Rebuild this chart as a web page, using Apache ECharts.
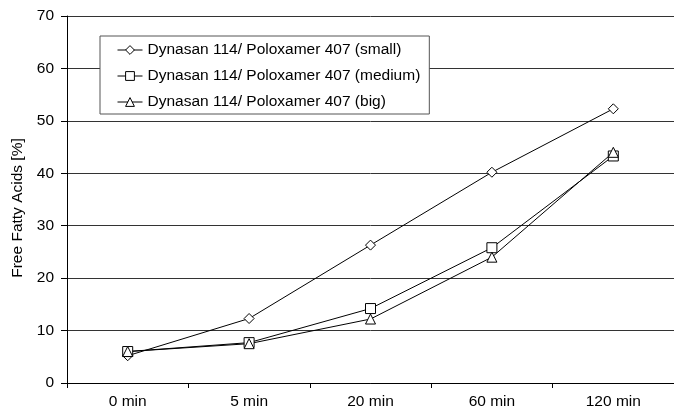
<!DOCTYPE html>
<html><head><meta charset="utf-8">
<script src="https://cdn.jsdelivr.net/npm/echarts@6/dist/echarts.min.js"></script>
<style>html,body{margin:0;padding:0;background:#fff}#c{width:674px;height:413px}</style>
</head><body><div id="c"></div>
<script>
const categories = ['0 min', '5 min', '20 min', '60 min', '120 min'];
const seriesNames = ['Dynasan 114/ Poloxamer 407 (small)', 'Dynasan 114/ Poloxamer 407 (medium)', 'Dynasan 114/ Poloxamer 407 (big)'];
const smallValues = [5.2, 12.3, 26.3, 40.2, 52.3];
const mediumValues = [6.0, 7.7, 14.2, 25.8, 43.3];
const bigValues = [6.0, 7.5, 12.2, 24.0, 44.0];
const yTicks = [0, 10, 20, 30, 40, 50, 60, 70];

const font = 'Liberation Sans, Arial, sans-serif';
const fs = 15.5;
const chart = echarts.init(document.getElementById('c'), null, {renderer: 'canvas'});
function mk(name, data, symbol, size) {
  return {
    name, type: 'line', data, symbol, symbolSize: size, showAllSymbol: true,
    lineStyle: {color: '#000', width: 1},
    itemStyle: {color: '#fff', borderColor: '#000', borderWidth: 1},
    emphasis: {disabled: true}, animation: false
  };
}
chart.setOption({
  animation: false,
  backgroundColor: '#fff',
  grid: {left: 67, top: 16, bottom: 30, right: -6, containLabel: false},
  legend: {
    orient: 'vertical', left: 100, top: 36,
    backgroundColor: '#fff', borderColor: '#555', borderWidth: 1,
    padding: [6, 9, 4, 17], itemGap: 10, itemWidth: 25, itemHeight: 11,
    lineStyle: {width: 1, color: '#000'},
    itemStyle: {borderWidth: 1, borderColor: '#000', color: '#fff'},
    textStyle: {fontFamily: font, fontSize: fs, lineHeight: 16, color: '#000'},
    data: seriesNames
  },
  xAxis: {
    type: 'category', data: categories, boundaryGap: true,
    axisLine: {lineStyle: {color: '#000', width: 1}},
    axisTick: {show: true, length: 5, lineStyle: {color: '#000'}},
    axisLabel: {fontFamily: font, fontSize: fs, color: '#000', margin: 11}
  },
  yAxis: {
    type: 'value', min: 0, max: 70, interval: 10,
    name: 'Free Fatty Acids [%]', nameLocation: 'middle', nameGap: 41,
    nameTextStyle: {fontFamily: font, fontSize: fs, color: '#000', padding: [0, 17, 0, 0]},
    axisLine: {show: true, lineStyle: {color: '#000', width: 1}},
    axisTick: {show: true, length: 6, lineStyle: {color: '#000'}},
    axisLabel: {fontFamily: font, fontSize: fs, color: '#000', margin: 13,
      formatter: v => yTicks.includes(v) ? String(v) : ''},
    splitLine: {show: true, lineStyle: {color: '#333', width: 1}}
  },
  series: [
    mk(seriesNames[0], smallValues, 'diamond', 10),
    mk(seriesNames[1], mediumValues, 'rect', 10),
    mk(seriesNames[2], bigValues, 'triangle', 10)
  ]
});
</script></body></html>
